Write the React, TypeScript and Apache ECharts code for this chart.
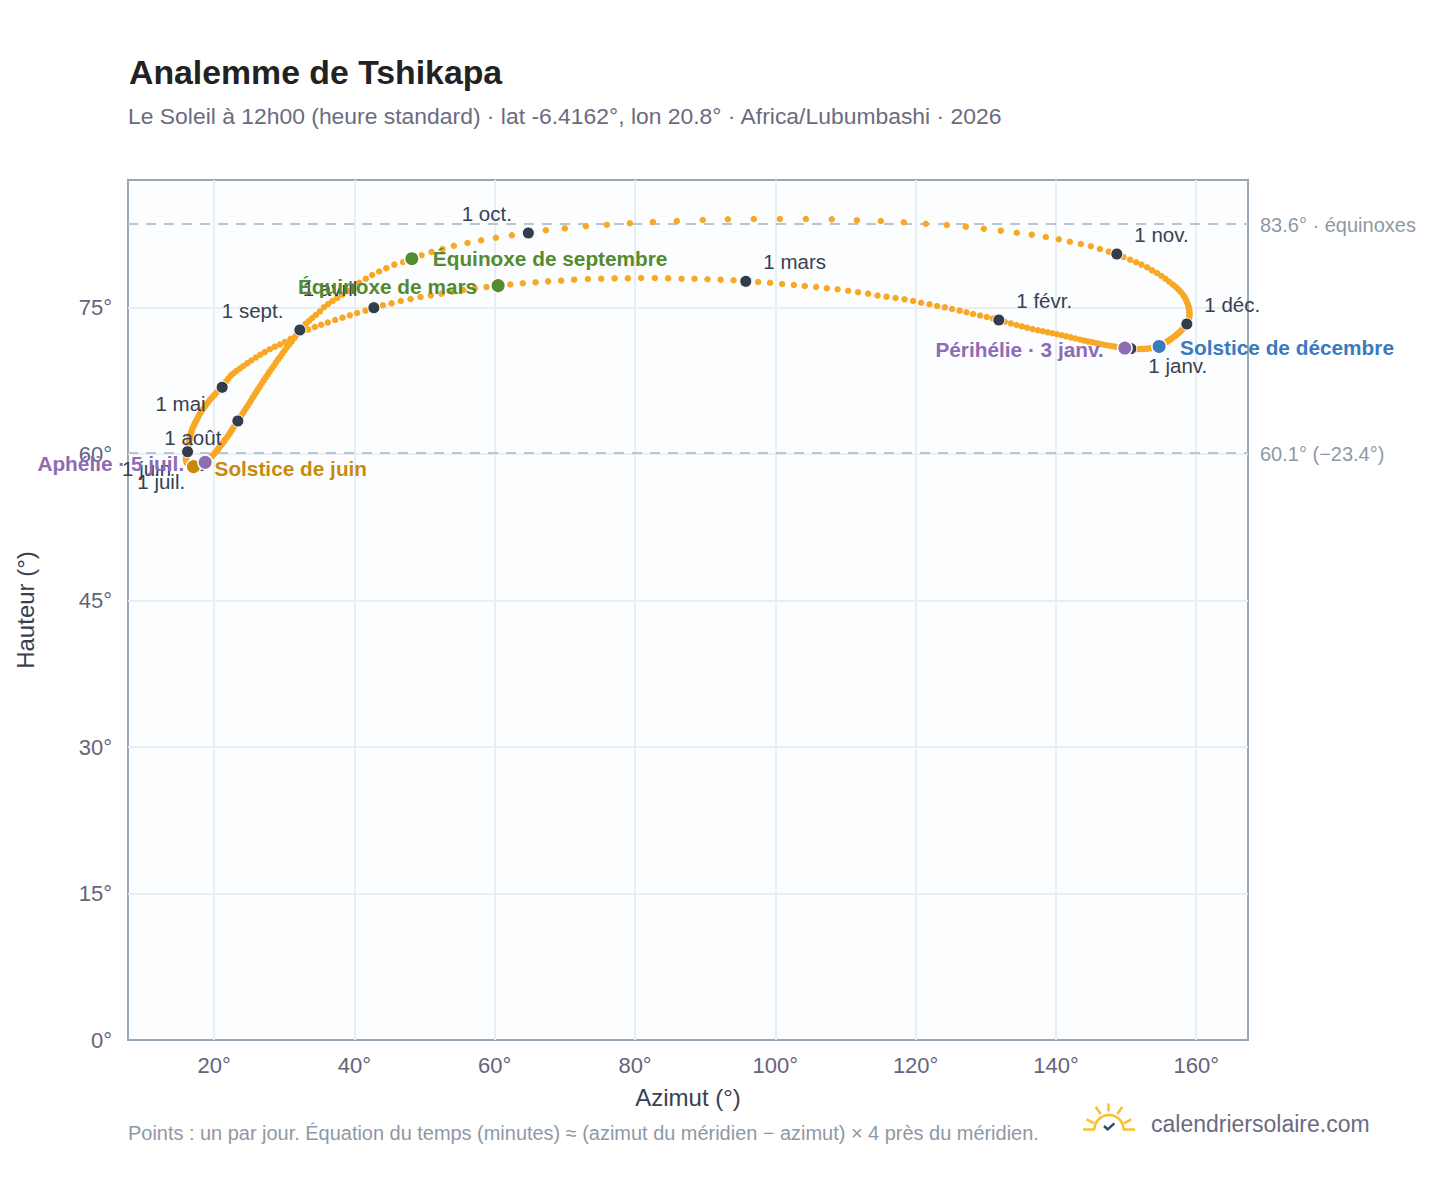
import React, { useEffect, useRef } from "react";
import * as echarts from "echarts";

const FONT = "'Liberation Sans', Arial, sans-serif";

const azJan = [150.68,150.25,149.82,149.39,148.96,148.54,148.11,147.68,147.18,146.68,146.18,145.69,145.12,144.55,143.98,143.41,142.76,142.12,141.48,140.84,140.17,139.51,138.84,138.13,137.42,136.66,135.89,135.14,134.38,133.57,132.71];
const altJan = [70.81,70.84,70.87,70.92,70.96,71.0,71.05,71.10,71.16,71.23,71.30,71.39,71.47,71.55,71.64,71.75,71.85,71.96,72.07,72.18,72.28,72.38,72.48,72.59,72.69,72.82,72.95,73.09,73.23,73.39,73.56];
const azFeb = [131.86,131.0,130.15,129.19,128.2,127.25,126.26,125.2,124.16,123.06,121.98,120.78,119.64,118.42,117.13,115.85,114.57,113.23,111.8,110.38,108.87,107.34,105.82,104.2,102.64,100.97,99.26,97.55];
const altFeb = [73.74,73.90,74.05,74.20,74.36,74.53,74.70,74.87,75.04,75.18,75.35,75.51,75.69,75.86,76.0,76.13,76.25,76.44,76.58,76.74,76.89,76.99,77.12,77.22,77.33,77.43,77.56,77.63];
const azMar = [95.79,94.04,92.19,90.33,88.48,86.63,84.72,82.82,80.87,78.97,77.08,75.17,73.27,71.32,69.47,67.61,65.82,64.0,62.22,60.48,58.83,57.16,55.52,53.96,52.42,50.89,49.42,48.0,46.61,45.29,44.05];
const altMar = [77.70,77.81,77.87,77.91,77.97,77.97,78.01,78.04,78.04,78.01,78.01,77.97,77.94,77.87,77.77,77.70,77.60,77.50,77.38,77.26,77.12,76.99,76.82,76.63,76.44,76.27,76.10,75.89,75.69,75.45,75.25];
const azApr = [42.77,41.58,40.38,39.34,38.30,37.25,36.21,35.25,34.35,33.40,32.50,31.65,30.86,30.08,29.37,28.65,27.94,27.23,26.59,25.94,25.30,24.73,24.16,23.66,23.16,22.74,22.38,22.02,21.71,21.41];
const altApr = [75.0,74.70,74.46,74.22,73.98,73.74,73.49,73.25,73.03,72.75,72.46,72.16,71.80,71.49,71.23,71.01,70.75,70.46,70.19,69.90,69.59,69.32,69.03,68.78,68.52,68.26,68.06,67.75,67.46,67.16];
const azMay = [21.14,20.74,20.38,20.06,19.73,19.43,19.16,18.89,18.65,18.42,18.20,17.99,17.80,17.63,17.48,17.32,17.18,17.03,16.92,16.82,16.72,16.64,16.56,16.49,16.44,16.39,16.35,16.31,16.28,16.25,16.22];
const altMay = [66.85,66.59,66.34,66.08,65.84,65.59,65.34,65.10,64.86,64.63,64.39,64.16,63.93,63.70,63.48,63.27,63.05,62.83,62.62,62.41,62.21,62.0,61.80,61.61,61.41,61.23,61.04,60.86,60.69,60.53,60.39];
const azJun = [16.21,16.15,16.11,16.07,16.04,16.01,15.99,15.99,16.01,16.04,16.08,16.14,16.21,16.29,16.38,16.48,16.58,16.68,16.79,16.92,17.06,17.18,17.29,17.41,17.52,17.63,17.75,17.85,17.96,18.09];
const altJun = [60.25,60.12,59.99,59.86,59.75,59.64,59.54,59.44,59.35,59.27,59.20,59.13,59.07,59.0,58.95,58.90,58.86,58.82,58.78,58.75,58.72,58.70,58.69,58.69,58.70,58.72,58.74,58.76,58.79,58.82];
const azJul = [18.22,18.35,18.47,18.60,18.72,18.85,18.99,19.13,19.29,19.46,19.63,19.80,19.97,20.14,20.31,20.48,20.66,20.83,21.0,21.18,21.37,21.55,21.75,21.95,22.15,22.35,22.52,22.71,22.89,23.06,23.22];
const altJul = [58.85,58.92,58.99,59.08,59.17,59.26,59.35,59.46,59.55,59.65,59.76,59.89,60.02,60.16,60.30,60.46,60.61,60.78,60.94,61.11,61.29,61.47,61.66,61.86,62.07,62.27,62.48,62.68,62.89,63.09,63.25];
const azAug = [23.38,23.61,23.83,24.06,24.29,24.53,24.78,25.02,25.26,25.50,25.76,26.02,26.27,26.53,26.80,27.07,27.34,27.63,27.91,28.20,28.50,28.80,29.09,29.41,29.72,30.04,30.36,30.71,31.06,31.43,31.82];
const altAug = [63.40,63.65,63.91,64.17,64.42,64.70,64.96,65.24,65.52,65.80,66.09,66.38,66.68,66.96,67.26,67.56,67.85,68.15,68.45,68.75,69.06,69.37,69.68,69.98,70.30,70.62,70.94,71.24,71.55,71.91,72.31];
const azSep = [32.22,32.62,33.04,33.50,33.98,34.50,35.07,35.64,36.24,36.86,37.53,38.25,39.02,39.81,40.67,41.62,42.52,43.52,44.55,45.69,46.94,48.18,49.56,50.99,52.56,54.17,56.12,58.06,60.16,62.44];
const altSep = [72.72,73.04,73.34,73.64,73.95,74.25,74.61,75.05,75.38,75.69,76.0,76.33,76.71,77.15,77.56,77.97,78.35,78.71,79.05,79.41,79.68,80.02,80.37,80.71,81.01,81.35,81.63,81.91,82.17,82.42];
const azOct = [64.79,67.28,69.99,72.99,75.98,79.26,82.54,85.96,89.66,93.23,96.93,100.64,104.35,108.05,111.62,115.04,118.32,121.45,124.45,127.15,129.72,132.14,134.42,136.56,138.56,140.41,141.98,143.55,144.97,146.26,147.54];
const altOct = [82.65,82.93,83.13,83.34,83.50,83.65,83.78,83.88,83.98,84.06,84.09,84.09,84.09,84.06,83.95,83.88,83.75,83.60,83.47,83.30,83.09,82.89,82.68,82.48,82.24,82.01,81.76,81.53,81.29,81.01,80.74];
const azNov = [148.68,149.63,150.58,151.43,152.20,153.0,153.71,154.42,155.05,155.62,156.16,156.66,157.09,157.47,157.80,158.09,158.33,158.52,158.66,158.80,158.90,158.97,159.01,159.04,159.04,159.01,158.97,158.90,158.83,158.76];
const altNov = [80.50,80.19,79.92,79.65,79.41,79.14,78.83,78.56,78.25,77.96,77.66,77.38,77.12,76.87,76.61,76.35,76.10,75.84,75.61,75.38,75.14,74.92,74.71,74.51,74.30,74.12,73.95,73.77,73.64,73.48];
const azDec = [158.66,158.56,158.44,158.32,158.17,158.03,157.87,157.72,157.55,157.37,157.19,156.99,156.79,156.58,156.35,156.11,155.85,155.59,155.31,155.02,154.71,154.35,153.98,153.61,153.24,152.87,152.50,152.13,151.76,151.38,151.03];
const altDec = [73.33,73.23,73.13,73.01,72.90,72.79,72.68,72.56,72.45,72.34,72.23,72.11,72.0,71.89,71.78,71.65,71.52,71.40,71.27,71.15,71.03,70.96,70.90,70.86,70.83,70.80,70.78,70.77,70.77,70.77,70.79];

const azByMonth = [azJan, azFeb, azMar, azApr, azMay, azJun, azJul, azAug, azSep, azOct, azNov, azDec];
const altByMonth = [altJan, altFeb, altMar, altApr, altMay, altJun, altJul, altAug, altSep, altOct, altNov, altDec];

const monthLabels = ["1 janv.", "1 févr.", "1 mars", "1 avril", "1 mai", "1 juin", "1 juil.", "1 août", "1 sept.", "1 oct.", "1 nov.", "1 déc."];
// quadrant of each month label around its marker: [horizontal side, vertical side]
const monthSides = [[1, 1], [1, -1], [1, -1], [-1, -1], [-1, 1], [-1, 1], [-1, 1], [-1, 1], [-1, -1], [-1, -1], [1, -1], [1, -1]];

const eventNames = ["Périhélie · 3 janv.", "Équinoxe de mars", "Solstice de juin", "Aphélie · 5 juil.", "Équinoxe de septembre", "Solstice de décembre"];
const eventMonths = [0, 2, 5, 6, 8, 11];
const eventDays = [3, 20, 21, 5, 22, 21];
const eventColors = ["#8e6bb5", "#558b2f", "#c98a0c", "#8e6bb5", "#558b2f", "#3a7abd"];
const eventSides = [-1, -1, 1, -1, 1, 1];
const eventDy = [1, 1, 2, 1, 0, 1];

const xTicks = [20, 40, 60, 80, 100, 120, 140, 160];
const yTicks = [0, 15, 30, 45, 60, 75];
const refLines = [
  { value: 83.6, name: "83.6° · équinoxes" },
  { value: 60.1, name: "60.1° (−23.4°)" },
];

const TITLE = "Analemme de Tshikapa";
const SUBTITLE = "Le Soleil à 12h00 (heure standard) · lat -6.4162°, lon 20.8° · Africa/Lubumbashi · 2026";
const FOOTER = "Points : un par jour. Équation du temps (minutes) ≈ (azimut du méridien − azimut) × 4 près du méridien.";
const BRAND = "calendriersolaire.com";

const SUN = "#fbc02d";

export default function App() {
  const ref = useRef<HTMLDivElement>(null);
  useEffect(() => {
    const chart = echarts.init(ref.current!, null, { renderer: "svg" });
    const daily: number[][] = [];
    azByMonth.forEach((m, i) => m.forEach((az, d) => daily.push([az, altByMonth[i][d]])));

    const monthData = monthLabels.map((text, i) => {
      const [h, v] = monthSides[i];
      return {
        value: [azByMonth[i][0], altByMonth[i][0]],
        label: {
          show: true,
          formatter: text,
          position: h > 0 ? "right" : "left",
          distance: 0,
          offset: [h > 0 ? 11 : -10, v > 0 ? 16.5 : -19.5],
        },
      };
    });

    const eventData = eventNames.map((text, i) => ({
      value: [azByMonth[eventMonths[i]][eventDays[i] - 1], altByMonth[eventMonths[i]][eventDays[i] - 1]],
      itemStyle: { color: eventColors[i] },
      label: {
        show: true,
        formatter: text,
        position: eventSides[i] > 0 ? "right" : "left",
        distance: 0,
        color: eventColors[i],
        offset: [eventSides[i] * 13, eventDy[i]],
      },
    }));

    chart.setOption({
      animation: false,
      backgroundColor: "#ffffff",
      textStyle: { fontFamily: FONT },
      grid: {
        left: 128, top: 180, width: 1120, height: 860,
        show: true, backgroundColor: "#fbfdff", borderColor: "#9aa7b5", borderWidth: 2,
      },
      xAxis: {
        type: "value", min: 7.72, max: 167.38,
        name: "Azimut (°)", nameLocation: "middle", nameGap: 45,
        nameTextStyle: { fontSize: 24, color: "#374151", fontFamily: FONT },
        axisLine: { show: false }, axisTick: { show: false, customValues: xTicks },
        axisLabel: { customValues: xTicks, formatter: "{value}°", fontSize: 22, color: "#64647a", margin: 14, fontFamily: FONT },
        splitLine: { show: true, lineStyle: { color: "#e9eef3", width: 2 } },
      },
      yAxis: {
        type: "value", min: 0, max: 88.08,
        name: "Hauteur (°)", nameLocation: "middle", nameGap: 91,
        nameTextStyle: { fontSize: 24, color: "#374151", fontFamily: FONT },
        axisLine: { show: false }, axisTick: { show: false, customValues: yTicks },
        axisLabel: { customValues: yTicks, formatter: "{value}°", fontSize: 22, color: "#64647a", margin: 16, fontFamily: FONT },
        splitLine: { show: true, showMinLine: false, lineStyle: { color: "#e9eef3", width: 2 } },
      },
      series: [
        {
          type: "scatter", z: 2, data: [], silent: true,
          markLine: {
            z: 2, silent: true, symbol: "none", animation: false,
            lineStyle: { color: "#b8c5d3", width: 2, type: [10, 8] },
            label: { position: "end", distance: 12, offset: [0, 1], formatter: "{b}", fontSize: 20, color: "#8d99a6", fontFamily: FONT },
            data: refLines.map((r) => ({ yAxis: r.value, name: r.name })),
          },
        },
        {
          type: "scatter", z: 3, clip: false, silent: true, symbolSize: 6.5,
          itemStyle: { color: "#f9a825", opacity: 1 }, data: daily,
        },
        {
          type: "scatter", z: 4, clip: false, silent: true, symbolSize: 12,
          itemStyle: { color: "#323c4c", borderColor: "#ffffff", borderWidth: 1, opacity: 1 },
          label: { fontSize: 20.5, color: "#374151", fontFamily: FONT },
          data: monthData,
        },
        {
          type: "scatter", z: 5, clip: false, silent: true, symbolSize: 14.5,
          itemStyle: { borderColor: "#ffffff", borderWidth: 1.5, opacity: 1 },
          label: { fontSize: 20.8, fontWeight: "bold", fontFamily: FONT },
          data: eventData,
        },
      ],
      graphic: [
        { type: "text", x: 129, y: 72, silent: true, style: { text: TITLE, font: `bold 33.8px ${FONT}`, fill: "#222222", verticalAlign: "middle" } },
        { type: "text", x: 128, y: 116, silent: true, style: { text: SUBTITLE, font: `22.9px ${FONT}`, fill: "#6b6b80", verticalAlign: "middle" } },
        { type: "text", x: 128, y: 1133, silent: true, style: { text: FOOTER, font: `19.95px ${FONT}`, fill: "#8d99a6", verticalAlign: "middle" } },
        { type: "text", x: 1151, y: 1124, silent: true, style: { text: BRAND, font: `23px ${FONT}`, fill: "#6b6b80", verticalAlign: "middle" } },
        { type: "line", silent: true, shape: { x1: 1083, y1: 1129.5, x2: 1095, y2: 1129.5 }, style: { stroke: SUN, lineWidth: 2.5 } },
        { type: "line", silent: true, shape: { x1: 1123, y1: 1129.5, x2: 1135, y2: 1129.5 }, style: { stroke: SUN, lineWidth: 2.5 } },
        { type: "arc", silent: true, shape: { cx: 1109, cy: 1129.5, r: 14.5, startAngle: Math.PI, endAngle: 0 }, style: { stroke: SUN, lineWidth: 2.5, fill: "none" } },
        { type: "line", silent: true, shape: { x1: 1108.5, y1: 1103.5, x2: 1108.5, y2: 1111.5 }, style: { stroke: SUN, lineWidth: 2.5 } },
        { type: "line", silent: true, shape: { x1: 1095.7, y1: 1106.7, x2: 1100.7, y2: 1114 }, style: { stroke: SUN, lineWidth: 2.5 } },
        { type: "line", silent: true, shape: { x1: 1122.3, y1: 1106.7, x2: 1117.3, y2: 1114 }, style: { stroke: SUN, lineWidth: 2.5 } },
        { type: "line", silent: true, shape: { x1: 1086.7, y1: 1119.3, x2: 1094, y2: 1123.3 }, style: { stroke: SUN, lineWidth: 2.5 } },
        { type: "line", silent: true, shape: { x1: 1131.3, y1: 1119.3, x2: 1124, y2: 1123.3 }, style: { stroke: SUN, lineWidth: 2.5 } },
        { type: "polyline", silent: true, shape: { points: [[1104, 1126], [1107.7, 1129.3], [1114.3, 1123.3]] }, style: { stroke: "#2c4a6e", lineWidth: 2.5, fill: "none" } },
      ],
    });
    return () => chart.dispose();
  }, []);
  return <div ref={ref} style={{ position: "absolute", left: 0, top: 0, width: 1448, height: 1188 }} />;
}
